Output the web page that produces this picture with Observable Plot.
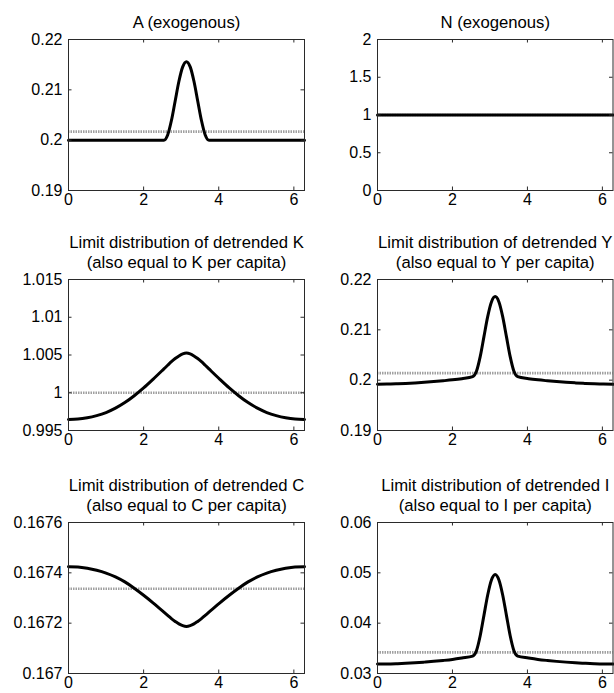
<!DOCTYPE html>
<html><head><meta charset="utf-8">
<script src="https://cdn.jsdelivr.net/npm/d3@7"></script>
<script src="https://cdn.jsdelivr.net/npm/@observablehq/plot@0.6"></script>
<style>
body{margin:0;background:#fff;}
#chart{position:relative;width:614px;height:693px;background:#fff;overflow:hidden;}
#chart svg{position:absolute;overflow:visible;}
</style></head><body><div id="chart"></div>
<script>
// shared x grid (0 .. 2π)
const xs = [0, 0.25, 0.5, 0.75, 1, 1.25, 1.5, 1.75, 2, 2.25, 2.54, 2.64, 2.74, 2.84, 2.94, 3.04, 3.14, 3.24, 3.34, 3.44, 3.54, 3.64, 3.74, 4.03, 4.28, 4.53, 4.78, 5.03, 5.28, 5.53, 5.78, 6.03, 6.2832];
const xTicks = [0, 2, 4, 6];
const xLabels = ["0", "2", "4", "6"];

const seriesA = [0.2, 0.2, 0.2, 0.2, 0.2, 0.2, 0.2, 0.2, 0.2, 0.2, 0.2, 0.20104, 0.2039, 0.2078, 0.2117, 0.21456, 0.2156, 0.21456, 0.2117, 0.2078, 0.2039, 0.20104, 0.2, 0.2, 0.2, 0.2, 0.2, 0.2, 0.2, 0.2, 0.2, 0.2, 0.2];
const seriesN = [1, 1, 1, 1, 1, 1, 1, 1, 1, 1, 1, 1, 1, 1, 1, 1, 1, 1, 1, 1, 1, 1, 1, 1, 1, 1, 1, 1, 1, 1, 1, 1, 1];
const seriesK = [0.99646, 0.99651, 0.99668, 0.99697, 0.99738, 0.99796, 0.99870, 0.99961, 1.00064, 1.00178, 1.00316, 1.00364, 1.00411, 1.00453, 1.00488, 1.00515, 1.00526, 1.00515, 1.00488, 1.00453, 1.00411, 1.00364, 1.00316, 1.00178, 1.00064, 0.99961, 0.99870, 0.99796, 0.99738, 0.99697, 0.99668, 0.99651, 0.99646];
const seriesY = [0.1992, 0.19922, 0.19928, 0.19936, 0.19946, 0.19958, 0.19972, 0.19988, 0.20006, 0.20030, 0.2007, 0.20177, 0.20468, 0.20865, 0.21263, 0.21554, 0.2166, 0.21554, 0.21263, 0.20865, 0.20468, 0.20177, 0.2007, 0.20030, 0.20006, 0.19988, 0.19972, 0.19958, 0.19946, 0.19936, 0.19928, 0.19922, 0.1992];
const seriesC = [0.167424, 0.167423, 0.167418, 0.167410, 0.167399, 0.167384, 0.167364, 0.167339, 0.167311, 0.167281, 0.167244, 0.167231, 0.167218, 0.167207, 0.167197, 0.167190, 0.167187, 0.167190, 0.167197, 0.167207, 0.167218, 0.167231, 0.167244, 0.167281, 0.167311, 0.167339, 0.167364, 0.167384, 0.167399, 0.167410, 0.167418, 0.167423, 0.167424];
const seriesI = [0.03187, 0.03189, 0.03195, 0.03203, 0.03213, 0.03226, 0.03241, 0.03259, 0.03280, 0.03308, 0.03345, 0.03453, 0.0375, 0.04155, 0.0456, 0.04857, 0.04967, 0.04857, 0.0456, 0.04155, 0.0375, 0.03453, 0.03345, 0.03308, 0.03280, 0.03259, 0.03241, 0.03226, 0.03213, 0.03203, 0.03195, 0.03189, 0.03187];

const means = {A: 0.2017, N: 1, K: 1.0, Y: 0.2014, C: 0.167337, I: 0.0342};

const titles = {
  A: "A (exogenous)",
  N: "N (exogenous)",
  K: "Limit distribution of detrended K\n(also equal to K per capita)",
  Y: "Limit distribution of detrended Y\n(also equal to Y per capita)",
  C: "Limit distribution of detrended C\n(also equal to C per capita)",
  I: "Limit distribution of detrended I\n(also equal to I per capita)"
};

const yTicksA = [0.19, 0.2, 0.21, 0.22];   const yLabelsA = ["0.19", "0.2", "0.21", "0.22"];
const yTicksN = [0, 0.5, 1, 1.5, 2];       const yLabelsN = ["0", "0.5", "1", "1.5", "2"];
const yTicksK = [0.995, 1, 1.005, 1.01, 1.015]; const yLabelsK = ["0.995", "1", "1.005", "1.01", "1.015"];
const yTicksY = [0.19, 0.2, 0.21, 0.22];   const yLabelsY = ["0.19", "0.2", "0.21", "0.22"];
const yTicksC = [0.167, 0.1672, 0.1674, 0.1676]; const yLabelsC = ["0.167", "0.1672", "0.1674", "0.1676"];
const yTicksI = [0.03, 0.04, 0.05, 0.06];  const yLabelsI = ["0.03", "0.04", "0.05", "0.06"];

const panels = [
  {key: "A", values: seriesA, ticks: yTicksA, labels: yLabelsA, col: 0, row: 0},
  {key: "N", values: seriesN, ticks: yTicksN, labels: yLabelsN, col: 1, row: 0},
  {key: "K", values: seriesK, ticks: yTicksK, labels: yLabelsK, col: 0, row: 1},
  {key: "Y", values: seriesY, ticks: yTicksY, labels: yLabelsY, col: 1, row: 1},
  {key: "C", values: seriesC, ticks: yTicksC, labels: yLabelsC, col: 0, row: 2},
  {key: "I", values: seriesI, ticks: yTicksI, labels: yLabelsI, col: 1, row: 2}
];

// layout
const rowTop = [39, 279, 522];
const frameH = 151;
const colLeft = [0, 307];
const mLeft = [68, 70];
const mRight = [3, 1.5];
const svgW = 307;
const mTop = 50, mBottom = 25;
const TL = 3.5;
const frameColor = "#2a2a2a";
const tickFont = 16;

const container = document.getElementById("chart");
const xLab = new Map(xTicks.map((t, i) => [t, xLabels[i]]));

for (const p of panels) {
  const data = xs.map((x, i) => ({x, v: p.values[i]}));
  const yLab = new Map(p.ticks.map((t, i) => [t, p.labels[i]]));
  const fw = svgW - mLeft[p.col] - mRight[p.col];
  const plot = Plot.plot({
    width: svgW,
    height: mTop + frameH + mBottom,
    marginLeft: mLeft[p.col],
    marginRight: mRight[p.col],
    marginTop: mTop,
    marginBottom: mBottom,
    style: {fontFamily: "'Liberation Sans', Arial, sans-serif", fontSize: tickFont + "px", color: "black", background: "transparent", overflow: "visible"},
    x: {domain: [0, 2 * Math.PI], label: null},
    y: {domain: [p.ticks[0], p.ticks[p.ticks.length - 1]], label: null},
    marks: [
      Plot.ruleY([means[p.key]], {stroke: "#a0a0a0", strokeWidth: 2.6, strokeDasharray: "1.5,1"}),
      Plot.line(data, {x: "x", y: "v", stroke: "black", strokeWidth: 3, curve: "monotone-x"}),
      Plot.frame({stroke: frameColor, strokeWidth: 1}),
      Plot.tickX(xTicks, {x: d => d, insetTop: frameH - TL, stroke: frameColor}),
      Plot.tickX(xTicks, {x: d => d, insetBottom: frameH - TL, stroke: frameColor}),
      Plot.tickY(p.ticks, {y: d => d, insetRight: fw - TL, stroke: frameColor}),
      Plot.tickY(p.ticks, {y: d => d, insetLeft: fw - TL, stroke: frameColor}),
      Plot.axisX(xTicks, {tickSize: 0, tickPadding: 3, tickFormat: d => xLab.get(d), fontSize: tickFont, label: null}),
      Plot.axisY(p.ticks, {tickSize: 0, tickPadding: 6, tickFormat: d => yLab.get(d), fontSize: tickFont, label: null}),
      Plot.text([titles[p.key]], {text: d => d, frameAnchor: "top", lineAnchor: "bottom", dy: -12, fontSize: 16.7, lineHeight: 1.15})
    ]
  });
  plot.style.left = colLeft[p.col] + "px";
  plot.style.top = (rowTop[p.row] - mTop) + "px";
  container.appendChild(plot);
}
</script>
</body></html>
